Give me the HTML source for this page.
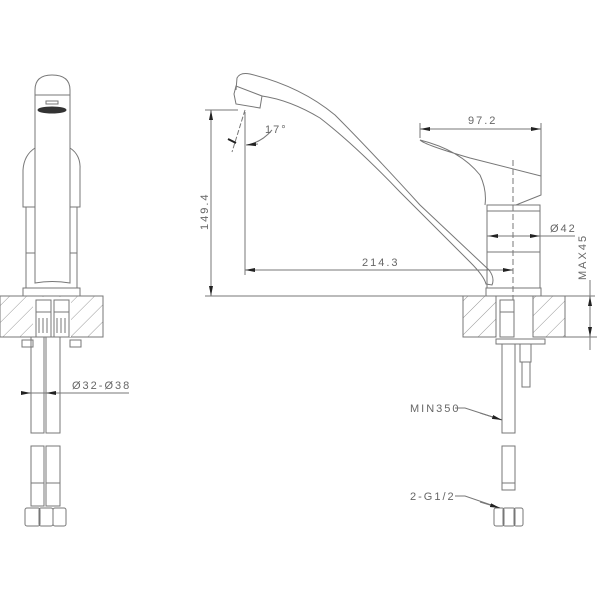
<!DOCTYPE html>
<html><head><style>body{margin:0;background:#fff}svg{display:block}text{font-family:"Liberation Sans",sans-serif;fill:#666;font-size:11px;letter-spacing:2px}</style></head>
<body>
<svg width="600" height="600" viewBox="0 0 600 600" fill="none" stroke="#777" stroke-width="1">
<defs>
<pattern id="h" width="12" height="12" patternUnits="userSpaceOnUse" patternTransform="rotate(45)"><line x1="0" y1="0" x2="0" y2="12" stroke="#999" stroke-width="1"/></pattern>
<marker id="a" markerWidth="10" markerHeight="6" refX="10" refY="3" orient="auto"><path d="M0,1 L10,3 L0,5 Z" fill="#222" stroke="none"/></marker>
</defs>
<!-- LEFT VIEW -->
<path d="M35,90 Q35,75 52,75 Q70,75 70,90 L70,283 Q52,280 35,283 Z"/>
<line x1="35" y1="95" x2="70" y2="95"/>
<ellipse cx="52" cy="110" rx="14" ry="3" fill="#333" stroke="#333"/>
<rect x="46" y="101" width="12" height="3"/>
<path d="M35,148 Q24,155 23,170 L23,207 L35,207"/>
<path d="M70,148 Q81,155 80,170 L80,207 L70,207"/>
<path d="M26,207 L26,288 M77,207 L77,288 M26,253 L35,253 M70,253 L77,253"/>
<rect x="23" y="288" width="57" height="8"/>
<rect x="0" y="296" width="103" height="41" fill="url(#h)"/>
<rect x="33" y="297" width="38" height="40" fill="#fff" stroke="none"/>
<rect x="36" y="300" width="15" height="37"/><rect x="54" y="300" width="15" height="37"/>
<line x1="36" y1="312" x2="51" y2="312"/><line x1="54" y1="312" x2="69" y2="312"/>
<path d="M39,318 V333 M43,318 V333 M47,318 V333 M57,318 V333 M61,318 V333 M65,318 V333"/>
<path d="M22,340 L33,340 L33,347 L22,347 Z M70,340 L81,340 L81,347 L70,347 Z"/>
<rect x="31" y="337" width="13" height="96"/><rect x="46" y="337" width="14" height="96"/>
<rect x="31" y="446" width="13" height="60"/><rect x="46" y="446" width="14" height="60"/>
<line x1="31" y1="483" x2="44" y2="483"/><line x1="46" y1="483" x2="60" y2="483"/>
<rect x="25" y="508" width="15" height="18" rx="2"/><rect x="39" y="508" width="14" height="18" rx="2"/><rect x="53" y="508" width="13" height="18" rx="2"/>
<line x1="21" y1="393" x2="129" y2="393"/>
<line x1="21" y1="393" x2="31" y2="393" marker-end="url(#a)"/><line x1="62" y1="393" x2="46" y2="393" marker-end="url(#a)"/>
<text x="72" y="389" stroke="none">Ø32-Ø38</text>
<!-- RIGHT VIEW -->
<line x1="205" y1="296" x2="595" y2="296"/>
<path d="M236,90 L237,78 Q240,72 250,74 Q300,86 335,115 Q370,150 420,205 L489,270 Q495,278 492,285 L486,284 Q484,276 470,262 L400,192 Q355,145 320,118 Q290,100 262,96"/>
<path d="M234,94 L236,86 L262,96 L260,108 L236,104 Z"/>
<path d="M420,140 Q425,145 470,158 L541,176 L541,195 L516,205 L487,205 M420,140 Q460,150 480,175 Q487,190 485,205"/>
<rect x="487" y="205" width="53" height="83"/>
<line x1="487" y1="211" x2="540" y2="211"/><line x1="487" y1="252" x2="540" y2="252"/>
<rect x="486" y="288" width="55" height="8"/>
<line x1="513" y1="160" x2="513" y2="300" stroke-dasharray="6,3"/>
<rect x="463" y="296" width="33" height="41" fill="url(#h)"/><rect x="533" y="296" width="32" height="41" fill="url(#h)"/>
<rect x="500" y="300" width="14" height="37"/><line x1="500" y1="312" x2="514" y2="312"/>
<rect x="496" y="339" width="49" height="5"/>
<rect x="520" y="344" width="11" height="18"/><rect x="522" y="362" width="8" height="25"/>
<rect x="502" y="344" width="13" height="89"/>
<rect x="502" y="446" width="13" height="44"/><line x1="502" y1="483" x2="515" y2="483"/>
<rect x="494" y="508" width="10" height="18" rx="2"/><rect x="503" y="508" width="12" height="18" rx="2"/><rect x="514" y="508" width="9" height="18" rx="2"/>
<!-- dims -->
<line x1="205" y1="110" x2="238" y2="110"/>
<line x1="211" y1="200" x2="211" y2="110" marker-end="url(#a)"/><line x1="211" y1="200" x2="211" y2="296" marker-end="url(#a)"/>
<text x="0" y="0" stroke="none" transform="translate(208,230) rotate(-90)">149.4</text>
<line x1="245" y1="112" x2="245" y2="275"/>
<line x1="380" y1="270" x2="245" y2="270" marker-end="url(#a)"/><line x1="380" y1="270" x2="513" y2="270" marker-end="url(#a)"/>
<text x="362" y="266" stroke="none">214.3</text>
<line x1="245" y1="110" x2="232" y2="152" stroke-dasharray="5,2"/>
<path d="M247,145 Q262,142 272,130"/>
<line x1="258" y1="144" x2="246" y2="145" marker-end="url(#a)"/>
<line x1="228" y1="139" x2="236" y2="143" stroke="#222" stroke-width="2"/>
<text x="265" y="133" stroke="none">17°</text>
<line x1="420" y1="123" x2="420" y2="138"/><line x1="541" y1="123" x2="541" y2="176"/>
<line x1="480" y1="129" x2="420" y2="129" marker-end="url(#a)"/><line x1="480" y1="129" x2="541" y2="129" marker-end="url(#a)"/>
<text x="468" y="124" stroke="none">97.2</text>
<line x1="487" y1="236" x2="575" y2="236"/>
<line x1="510" y1="236" x2="488" y2="236" marker-end="url(#a)"/><line x1="528" y1="236" x2="540" y2="236" marker-end="url(#a)"/>
<text x="550" y="232" stroke="none">Ø42</text>
<line x1="545" y1="337" x2="597" y2="337"/>
<line x1="590" y1="316" x2="590" y2="296" marker-end="url(#a)"/><line x1="590" y1="316" x2="590" y2="337" marker-end="url(#a)"/>
<line x1="590" y1="337" x2="590" y2="350"/><line x1="590" y1="280" x2="590" y2="296"/>
<text x="0" y="0" stroke="none" transform="translate(586,280) rotate(-90)">MAX45</text>
<text x="410" y="412" stroke="none">MIN350</text>
<path d="M455,408 L465,408 L502,420" /><line x1="480" y1="413" x2="502" y2="420" marker-end="url(#a)"/>
<text x="410" y="500" stroke="none">2-G1/2</text>
<path d="M455,496 L465,496 L500,508"/><line x1="480" y1="502" x2="500" y2="508" marker-end="url(#a)"/>
</svg>
</body></html>
